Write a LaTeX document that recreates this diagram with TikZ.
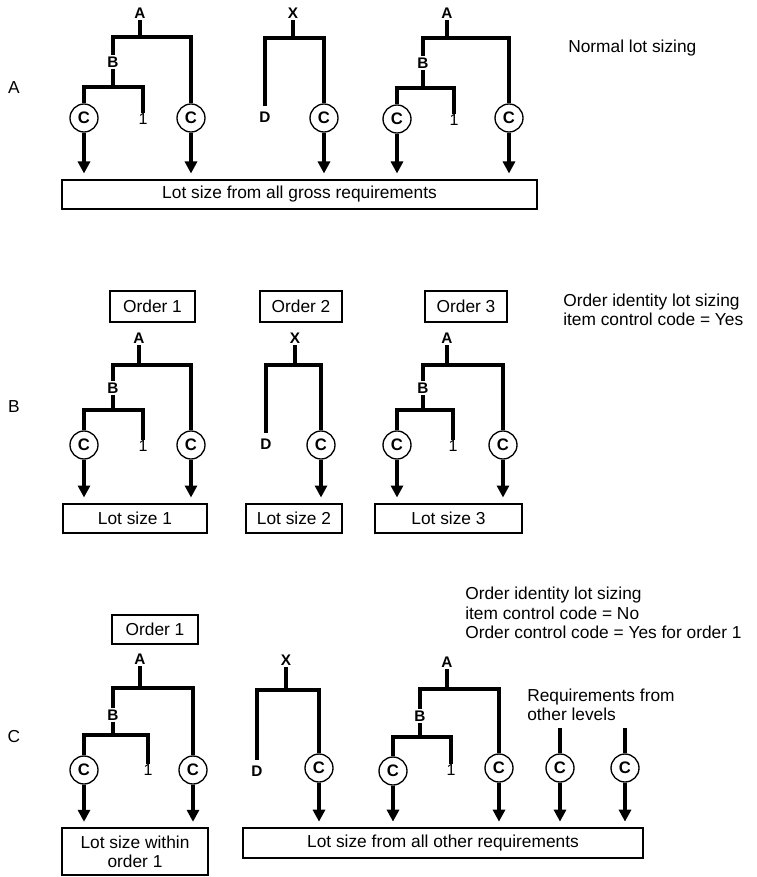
\documentclass[tikz,border=0pt]{standalone}
\usepackage{fontspec}
\setmainfont{Liberation Sans}
\usetikzlibrary{arrows.meta}

\begin{document}
\begin{tikzpicture}[x=0.75pt,y=-0.75pt,font=\fontsize{13}{14.5}\selectfont,
  part/.style={font=\bfseries\fontsize{11.5}{12}\selectfont,inner sep=1.2pt},
  unit/.style={font=\fontsize{12}{12}\selectfont,inner sep=0.5pt},
  comp/.style={circle,draw,line width=1pt,minimum size=21pt,inner sep=0pt,font=\bfseries\fontsize{12.5}{12}\selectfont},
  link/.style={line width=2.4pt},
  feed/.style={line width=2.4pt,-{Triangle[length=9pt,width=9pt]},shorten >=4pt},
  frame/.style={draw,line width=1.5pt,minimum height=22pt,inner sep=2pt},
  note/.style={anchor=west,align=left,inner sep=0pt}]
  \useasboundingbox (0,0) rectangle (756,877);

  % ---- normal lot sizing
  \node (secA) at (14,88) {A};
  \node[part] (a1A) at (140,13) {A};
  \coordinate (a1j) at (140,37);
  \node[part] (a1B) at (113,62) {B};
  \coordinate (a1k) at (113,87);
  \node[comp] (a1c1) at (84,118) {C};
  \node[unit] (a1u) at (143,119) {1};
  \node[comp] (a1c2) at (191,118) {C};
  \draw[link] (a1A) -- (a1j) -| (a1B);
  \draw[link] (a1j) -| (a1c2);
  \draw[link] (a1B) -- (a1k) -| (a1c1);
  \draw[link] (a1k) -| (a1u);

  \node[part] (a2X) at (293,13) {X};
  \coordinate (a2j) at (293,38);
  \node[part,inner sep=4pt] (a2D) at (265,117) {D};
  \node[comp] (a2c) at (324,118) {C};
  \draw[link] (a2X) -- (a2j) -| (a2D);
  \draw[link] (a2j) -| (a2c);

  \node[part] (a3A) at (447,13) {A};
  \coordinate (a3j) at (447,38);
  \node[part] (a3B) at (423,63) {B};
  \coordinate (a3k) at (423,88);
  \node[comp] (a3c1) at (397,119) {C};
  \node[unit] (a3u) at (454,120) {1};
  \node[comp] (a3c2) at (509,118) {C};
  \draw[link] (a3A) -- (a3j) -| (a3B);
  \draw[link] (a3j) -| (a3c2);
  \draw[link] (a3B) -- (a3k) -| (a3c1);
  \draw[link] (a3k) -| (a3u);

  \node[frame,minimum width=356pt] (abox) at (299.5,194.5) {Lot size from all gross requirements};
  \draw[feed] (a1c1) -- (a1c1 |- abox.north);
  \draw[feed] (a1c2) -- (a1c2 |- abox.north);
  \draw[feed] (a2c) -- (a2c |- abox.north);
  \draw[feed] (a3c1) -- (a3c1 |- abox.north);
  \draw[feed] (a3c2) -- (a3c2 |- abox.north);
  \node[note] (anote) at (568,48) {Normal lot sizing};

  % ---- order identity, item control code = Yes
  \node (secB) at (14,407) {B};
  \node[frame,minimum width=64pt,minimum height=23pt] (b1o) at (152.5,306.5) {Order 1};
  \node[frame,minimum width=61.5pt,minimum height=23pt] (b2o) at (301,306.5) {Order 2};
  \node[frame,minimum width=61.5pt,minimum height=23pt] (b3o) at (466,306.5) {Order 3};

  \node[part] (b1A) at (139,338) {A};
  \coordinate (b1j) at (139,365);
  \node[part] (b1B) at (113,388) {B};
  \coordinate (b1k) at (113,410);
  \node[comp] (b1c1) at (84,445) {C};
  \node[unit] (b1u) at (143,446) {1};
  \node[comp] (b1c2) at (191,445) {C};
  \draw[link] (b1A) -- (b1j) -| (b1B);
  \draw[link] (b1j) -| (b1c2);
  \draw[link] (b1B) -- (b1k) -| (b1c1);
  \draw[link] (b1k) -| (b1u);

  \node[part] (b2X) at (295,338) {X};
  \coordinate (b2j) at (295,365);
  \node[part,inner sep=4pt] (b2D) at (266,444) {D};
  \node[comp] (b2c) at (321,445) {C};
  \draw[link] (b2X) -- (b2j) -| (b2D);
  \draw[link] (b2j) -| (b2c);

  \node[part] (b3A) at (447,338) {A};
  \coordinate (b3j) at (447,365);
  \node[part] (b3B) at (423,388) {B};
  \coordinate (b3k) at (423,410);
  \node[comp] (b3c1) at (397,445) {C};
  \node[unit] (b3u) at (453,446) {1};
  \node[comp] (b3c2) at (503,445) {C};
  \draw[link] (b3A) -- (b3j) -| (b3B);
  \draw[link] (b3j) -| (b3c2);
  \draw[link] (b3B) -- (b3k) -| (b3c1);
  \draw[link] (b3k) -| (b3u);

  \node[frame,minimum width=108pt] (b1box) at (135,518.5) {Lot size 1};
  \node[frame,minimum width=72pt] (b2box) at (294,518.5) {Lot size 2};
  \node[frame,minimum width=110pt] (b3box) at (448.5,518.5) {Lot size 3};
  \draw[feed] (b1c1) -- (b1c1 |- b1box.north);
  \draw[feed] (b1c2) -- (b1c2 |- b1box.north);
  \draw[feed] (b2c) -- (b2c |- b2box.north);
  \draw[feed] (b3c1) -- (b3c1 |- b3box.north);
  \draw[feed] (b3c2) -- (b3c2 |- b3box.north);
  \node[note] (bnote) at (563,310) {Order identity lot sizing\\item control code = Yes};

  % ---- order identity, item control code = No
  \node (secC) at (14,737) {C};
  \node[frame,minimum width=64.5pt] (c1o) at (155,629.5) {Order 1};

  \node[part] (c1A) at (140,659) {A};
  \coordinate (c1j) at (140,688);
  \node[part] (c1B) at (113,715) {B};
  \coordinate (c1k) at (113,735);
  \node[comp] (c1c1) at (84,770) {C};
  \node[unit] (c1u) at (148,770) {1};
  \node[comp] (c1c2) at (193,770) {C};
  \draw[link] (c1A) -- (c1j) -| (c1B);
  \draw[link] (c1j) -| (c1c2);
  \draw[link] (c1B) -- (c1k) -| (c1c1);
  \draw[link] (c1k) -| (c1u);

  \node[part] (c2X) at (286,660) {X};
  \coordinate (c2j) at (286,690);
  \node[part,inner sep=4pt] (c2D) at (257,771) {D};
  \node[comp] (c2c) at (319,768) {C};
  \draw[link] (c2X) -- (c2j) -| (c2D);
  \draw[link] (c2j) -| (c2c);

  \node[part] (c3A) at (447,662) {A};
  \coordinate (c3j) at (447,689);
  \node[part] (c3B) at (420,716) {B};
  \coordinate (c3k) at (420,737);
  \node[comp] (c3c1) at (393,771) {C};
  \node[unit] (c3u) at (451,770) {1};
  \node[comp] (c3c2) at (499,768) {C};
  \draw[link] (c3A) -- (c3j) -| (c3B);
  \draw[link] (c3j) -| (c3c2);
  \draw[link] (c3B) -- (c3k) -| (c3c1);
  \draw[link] (c3k) -| (c3u);

  % requirements coming from other levels
  \coordinate (c4t) at (560,728);
  \coordinate (c5t) at (625,728);
  \node[comp] (c4c) at (560,768) {C};
  \node[comp] (c5c) at (625,768) {C};
  \draw[link] (c4t) -- (c4c);
  \draw[link] (c5t) -- (c5c);
  \node[note] (cother) at (527,705) {Requirements from\\other levels};

  \node[frame,minimum width=109.5pt,minimum height=35pt,align=center] (c1box) at (135,851.5) {Lot size within\\order 1};
  \node[frame,minimum width=300pt,minimum height=22.5pt] (c2box) at (443,843) {Lot size from all other requirements};
  \draw[feed] (c1c1) -- (c1c1 |- c1box.north);
  \draw[feed] (c1c2) -- (c1c2 |- c1box.north);
  \draw[feed] (c2c) -- (c2c |- c2box.north);
  \draw[feed] (c3c1) -- (c3c1 |- c2box.north);
  \draw[feed] (c3c2) -- (c3c2 |- c2box.north);
  \draw[feed] (c4c) -- (c4c |- c2box.north);
  \draw[feed] (c5c) -- (c5c |- c2box.north);
  \node[note] (cnote) at (465,613) {Order identity lot sizing\\item control code = No\\Order control code = Yes for order 1};
\end{tikzpicture}
\end{document}
